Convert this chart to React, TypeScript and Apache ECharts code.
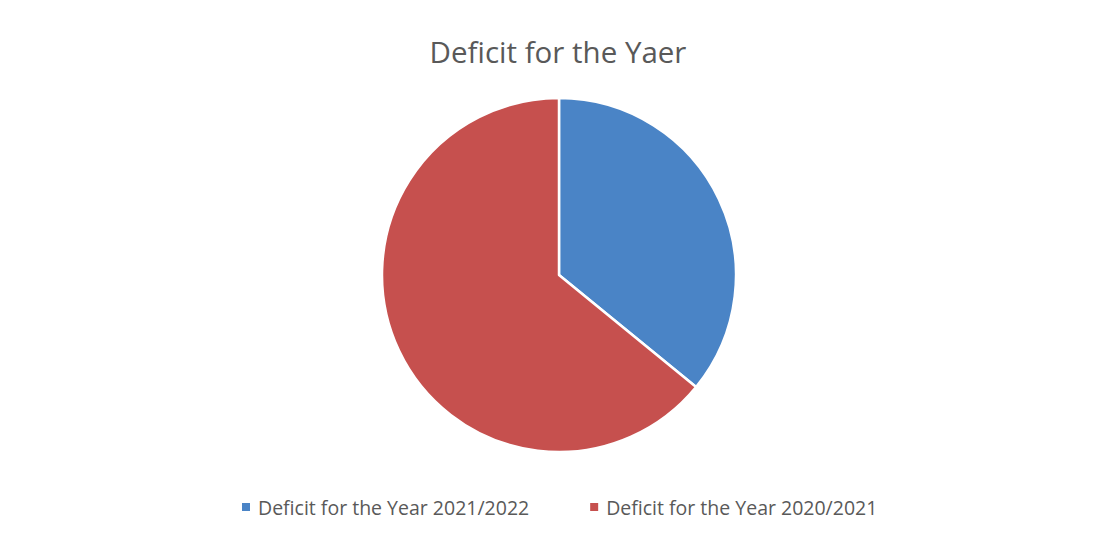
import React, { useEffect, useRef } from "react";
import * as echarts from "echarts";

const categories = ["Deficit for the Year 2021/2022", "Deficit for the Year 2020/2021"];
const values = [35.9, 64.1];
const colors = ["#4a84c6", "#c6504e"];
const titleText = "Deficit for the Yaer";

export default function App() {
  const ref = useRef<HTMLDivElement>(null);
  useEffect(() => {
    document.body.style.margin = "0";
    const chart = echarts.init(ref.current!, null, { renderer: "svg" });
    chart.setOption({
      animation: false,
      backgroundColor: "#ffffff",
      title: {
        text: titleText,
        left: 553,
        textAlign: "center",
        top: 31,
        textStyle: { fontFamily: "Open Sans", fontSize: 29.5, fontWeight: "normal", color: "#595959" },
      },
      legend: {
        data: categories,
        left: 235,
        top: 492,
        icon: "rect",
        itemWidth: 10,
        itemHeight: 10,
        itemGap: 59,
        textStyle: { fontFamily: "Open Sans", fontSize: 19.5, color: "#595959", padding: [0, 0, 0, 2] },
      },
      series: [
        {
          type: "pie",
          center: [559, 275],
          radius: 177,
          startAngle: 90,
          clockwise: true,
          label: { show: false },
          labelLine: { show: false },
          itemStyle: { borderColor: "#ffffff", borderWidth: 2.5 },
          data: categories.map((c, i) => ({ name: c, value: values[i], itemStyle: { color: colors[i] } })),
        },
      ],
    });
    return () => chart.dispose();
  }, []);
  return <div ref={ref} style={{ width: 1099, height: 535 }} />;
}
